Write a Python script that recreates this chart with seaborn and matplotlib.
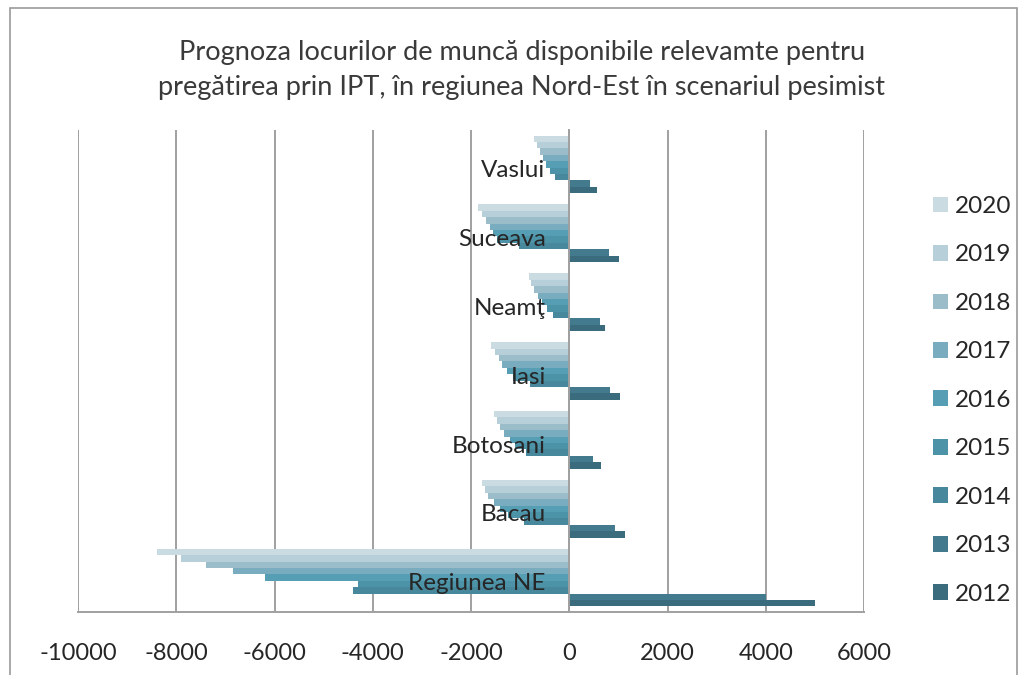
import pandas as pd
import matplotlib
matplotlib.use("Agg")
import matplotlib.pyplot as plt
import matplotlib.patches as mpatches
from matplotlib.transforms import offset_copy
import seaborn as sns

# data (values per region, years 2012..2020)
years = [2012, 2013, 2014, 2015, 2016, 2017, 2018, 2019, 2020]
regions = ["Regiunea NE", "Bacau", "Botosani", "Iasi", "Neamţ", "Suceava", "Vaslui"]

regiunea_ne = [5000, 4000, -4400, -4300, -6200, -6850, -7400, -7900, -8400]
bacau = [1140, 930, -920, -1250, -1400, -1540, -1650, -1710, -1770]
botosani = [650, 490, -875, -1100, -1200, -1330, -1400, -1470, -1540]
iasi = [1040, 830, -800, -1150, -1260, -1360, -1440, -1510, -1590]
neamt = [730, 620, -340, -450, -550, -640, -710, -770, -810]
suceava = [1020, 800, -1020, -1480, -1550, -1620, -1700, -1780, -1850]
vaslui = [560, 430, -290, -400, -470, -530, -600, -660, -710]

year_colors = ["#2f7189", "#36809a", "#3a8faa", "#3e9bb7", "#46a6c3",
               "#6cb1ca", "#94c1d0", "#b0d2de", "#c6dde6"]

title = ("Prognoza locurilor de muncă disponibile relevamte pentru\n"
         "pregătirea prin IPT, în regiunea Nord-Est în scenariul pesimist")

wide = pd.DataFrame({
    "Regiunea NE": regiunea_ne, "Bacau": bacau, "Botosani": botosani,
    "Iasi": iasi, "Neamţ": neamt, "Suceava": suceava, "Vaslui": vaslui,
}, index=[str(y) for y in years])
df = wide.reset_index(names="An").melt(id_vars="An", var_name="Regiune", value_name="Valoare")

plt.rcParams["font.family"] = ["Lato", "DejaVu Sans"]
plt.rcParams["axes.unicode_minus"] = False

fig = plt.figure(figsize=(10.25, 6.75), dpi=100)
ax = fig.add_axes([78 / 1025, 1 - 612 / 675, (864 - 78) / 1025, (612 - 130) / 675])

order = regions[::-1]
hue_order = [str(y) for y in years][::-1]
sns.barplot(data=df, y="Regiune", x="Valoare", hue="An", order=order,
            hue_order=hue_order, palette=year_colors[::-1], width=0.84,
            linewidth=0, errorbar=None, ax=ax)

ax.set_xlim(-10000, 6000)
ax.set_xticks(range(-10000, 6001, 2000))
ax.set_xticklabels([str(v) for v in range(-10000, 6001, 2000)])
ax.set_xlabel("")
ax.set_ylabel("")
ax.set_axisbelow(True)
ax.grid(axis="x", color="#a0a0a0", linewidth=1.4)
ax.grid(axis="y", visible=False)
ax.tick_params(axis="x", length=0, pad=22, labelsize=17, labelcolor="#262626")
ax.tick_params(axis="y", length=0, labelleft=False)

for side in ["top", "right"]:
    ax.spines[side].set_visible(False)
ax.spines["left"].set_position(("data", 0))
ax.spines["left"].set_color("#a0a0a0")
ax.spines["left"].set_linewidth(1.4)
ax.spines["bottom"].set_color("#a0a0a0")
ax.spines["bottom"].set_linewidth(1.4)

# category labels sit next to the vertical axis, over the bars
lab_tr = offset_copy(ax.transData, fig=fig, x=-17, y=-4.5, units="points")
for i, name in enumerate(order):
    ax.text(0, i, name, transform=lab_tr, ha="right", va="center",
            fontsize=17.5, color="#262626", zorder=5)

handles, labels = ax.get_legend_handles_labels()
ax.legend(handles, labels, loc="upper left", bbox_to_anchor=(933 / 1025, 1 - 196 / 675),
          bbox_transform=fig.transFigure, frameon=False, fontsize=17.5,
          handlelength=0.62, handleheight=0.62, handletextpad=0.3,
          labelspacing=1.13, borderpad=0, borderaxespad=0, labelcolor="#262626")

fig.text(522 / 1025, 1 - 70 / 675, title, ha="center", va="center",
         fontsize=19.5, color="#3a3a3a", linespacing=1.5)

fig.patches.append(mpatches.Rectangle((10 / 1025, -0.02), 1007 / 1025, 1 - 8 / 675 + 0.02,
                                      transform=fig.transFigure, fill=False,
                                      edgecolor="#9a9a9a", linewidth=1.2))

fig.savefig("out.png", dpi=100)
